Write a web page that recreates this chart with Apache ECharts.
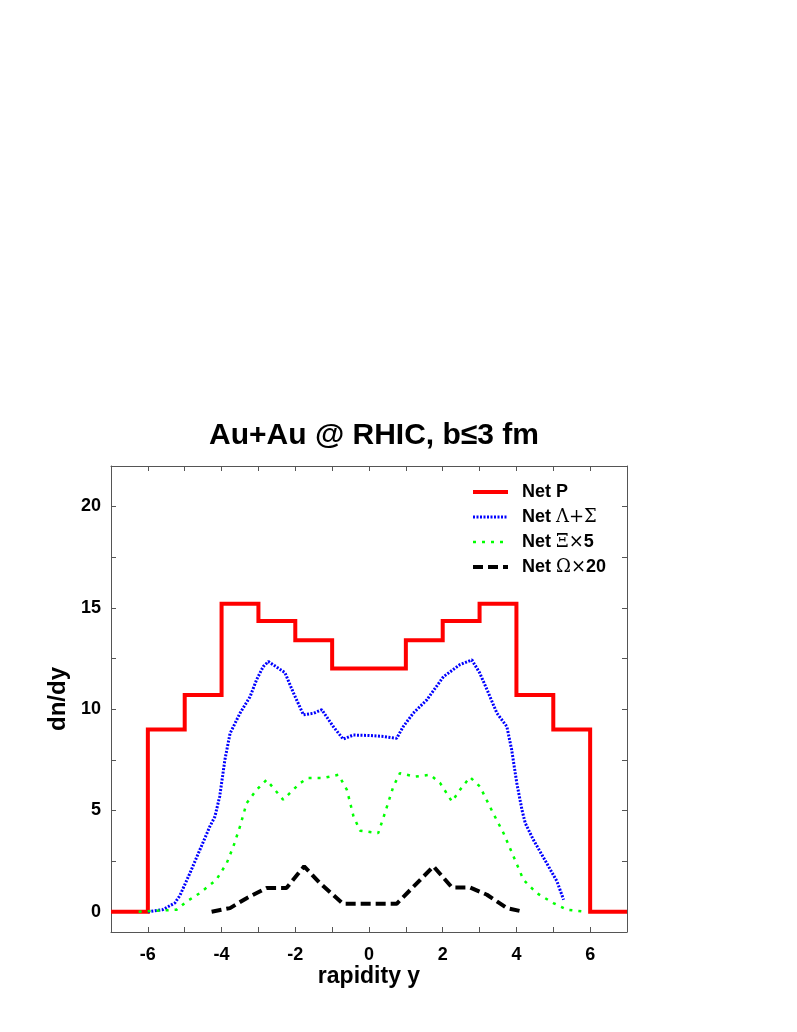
<!DOCTYPE html>
<html>
<head>
<meta charset="utf-8">
<script src="https://cdn.jsdelivr.net/npm/echarts@6/dist/echarts.min.js"></script>
<style>html,body{margin:0;padding:0;background:#fff;}#c{width:797px;height:1032px;}</style>
</head>
<body>
<div id="c"></div>
<script>
// Net P histogram: bin edges and bin values
const netPEdges = [-7,-6,-5,-4,-3,-2,-1,0,1,2,3,4,5,6,7];
const netPValues = [0,9.0,10.7,15.2,14.35,13.4,12.0,12.0,13.4,14.35,15.2,10.7,9.0,0];

const lambdaSigma = [[-6.0,0.0],[-5.6,0.1],[-5.27,0.43],[-5.13,0.8],[-4.86,1.9],[-4.59,3.05],[-4.32,4.2],[-4.18,4.7],[-4.05,5.7],[-3.91,7.5],[-3.77,8.8],[-3.5,9.8],[-3.23,10.6],[-3.05,11.45],[-2.87,12.1],[-2.73,12.35],[-2.28,11.8],[-2.05,10.8],[-1.78,9.72],[-1.5,9.8],[-1.28,9.97],[-0.97,9.14],[-0.7,8.52],[-0.43,8.72],[0.0,8.7],[0.4,8.65],[0.75,8.56],[0.93,9.14],[1.2,9.8],[1.57,10.46],[2.02,11.6],[2.47,12.2],[2.79,12.43],[3.0,11.8],[3.24,10.8],[3.47,9.8],[3.74,9.14],[3.87,8.0],[4.01,6.35],[4.15,5.03],[4.24,4.37],[4.46,3.55],[4.82,2.4],[5.1,1.5],[5.28,0.59]];

const xi5 = [[-6.25,0.0],[-5.22,0.1],[-4.95,0.5],[-4.59,0.92],[-4.14,1.58],[-3.86,2.4],[-3.68,3.22],[-3.5,4.21],[-3.32,5.36],[-3.05,6.02],[-2.78,6.51],[-2.33,5.53],[-1.87,6.35],[-1.65,6.6],[-1.24,6.6],[-0.83,6.76],[-0.6,6.02],[-0.42,4.7],[-0.24,4.0],[0.25,3.88],[0.43,4.86],[0.66,6.18],[0.84,6.84],[1.25,6.67],[1.66,6.76],[1.93,6.35],[2.25,5.44],[2.47,6.02],[2.74,6.64],[3.01,6.18],[3.37,4.86],[3.65,3.88],[3.92,2.73],[4.19,1.58],[4.55,0.92],[5.0,0.43],[5.37,0.1],[5.85,0.0]];

const omega20 = [[-4.27,0.0],[-3.77,0.18],[-3.32,0.67],[-2.78,1.17],[-2.24,1.17],[-1.76,2.24],[-1.33,1.41],[-0.7,0.39],[0.3,0.39],[0.75,0.39],[1.75,2.24],[2.25,1.2],[2.74,1.2],[3.2,0.84],[3.74,0.18],[4.19,0.0]];

const xTickValues = [-6,-5,-4,-3,-2,-1,0,1,2,3,4,5,6];
const xLabelValues = [-6,-4,-2,0,2,4,6];
const yTickValues = [0,2.5,5,7.5,10,12.5,15,17.5,20];
const yLabelValues = [0,5,10,15,20];

const seriesNames = ['Net P','Net \u039B+\u03A3','Net \u039E\u00D75','Net \u03A9\u00D720'];
// legend rich-text versions (Greek letters and operators in upright serif, like the math font)
const legendRich = {
  'Net P':'{b|Net P}',
  'Net \u039B+\u03A3':'{b|Net }{g|\u039B+\u03A3}',
  'Net \u039E\u00D75':'{b|Net }{g|\u039E\u00D7}{b|5}',
  'Net \u03A9\u00D720':'{b|Net }{g|\u03A9\u00D7}{b|20}'
};

const netPData = netPValues.map((v,i)=>[netPEdges[i],v]);
netPData.push([netPEdges[netPEdges.length-1], netPValues[netPValues.length-1]]);

const FONT = '"Liberation Sans", "DejaVu Sans", sans-serif';
const SERIF = '"DejaVu Serif", "Liberation Serif", serif';
const axisCol = '#555';

const styles = [
  {color:'#ff0000', width:4, type:'solid'},
  {color:'#0000ff', width:3, type:[2,1.5]},
  {color:'#00ff00', width:2.5, type:[3,6]},
  {color:'#000000', width:4, type:[10,5]}
];

function xAx(pos, showLabel){
  return {
    type:'value', position:pos, min:-7, max:7,
    axisLine:{show:true, onZero:false, lineStyle:{color:axisCol, width:1}},
    axisTick:{show:true, inside:true, length:5, customValues:xTickValues, lineStyle:{color:axisCol}},
    axisLabel:{show:showLabel, customValues:xLabelValues, margin:14, fontFamily:FONT, fontWeight:'bold', fontSize:18, color:'#000'},
    splitLine:{show:false},
    name: showLabel ? 'rapidity y' : '',
    nameLocation:'middle', nameGap:32,
    nameTextStyle:{fontFamily:FONT, fontWeight:'bold', fontSize:23, color:'#000'}
  };
}
function yAx(pos, showLabel){
  return {
    type:'value', position:pos, min:-1, max:22,
    axisLine:{show:true, onZero:false, lineStyle:{color:axisCol, width:1}},
    axisTick:{show:true, inside:true, length:5, customValues:yTickValues, lineStyle:{color:axisCol}},
    axisLabel:{show:showLabel, customValues:yLabelValues, margin:10, fontFamily:FONT, fontWeight:'bold', fontSize:18, color:'#000'},
    splitLine:{show:false},
    name: showLabel ? 'dn/dy' : '',
    nameLocation:'middle', nameGap:38, nameRotate:90,
    nameTextStyle:{fontFamily:FONT, fontWeight:'bold', fontSize:24, color:'#000'}
  };
}

const chart = echarts.init(document.getElementById('c'), null, {renderer:'canvas'});
chart.setOption({
  animation:false,
  backgroundColor:'#fff',
  title:{
    text:'Au+Au @ RHIC, b\u22643 fm', left:369, top:416, textAlign:'center',
    textStyle:{fontFamily:FONT, fontWeight:'bold', fontSize:30, color:'#000'}
  },
  grid:{left:111, right:170, top:466, bottom:100, containLabel:false},
  xAxis:[xAx('bottom', true), xAx('top', false)],
  yAxis:[yAx('left', true), yAx('right', false)],
  legend:{
    orient:'vertical', left:471, top:482, padding:0,
    itemWidth:35, itemHeight:14, itemGap:5,
    data:seriesNames.map((n,i)=>({name:n, lineStyle:{width:styles[i].width, type:styles[i].type, color:styles[i].color}})),
    itemStyle:{opacity:0},
    formatter:(n)=>legendRich[n] || n,
    textStyle:{fontFamily:FONT, fontWeight:'bold', fontSize:18, color:'#000', lineHeight:20, padding:[0,0,0,9],
      rich:{
        b:{fontFamily:FONT, fontWeight:'bold', fontSize:18, color:'#000', lineHeight:20},
        g:{fontFamily:SERIF, fontWeight:'normal', fontSize:18, color:'#000', lineHeight:20}
      }}
  },
  series:[
    {name:seriesNames[0], type:'line', step:'end', data:netPData, showSymbol:false, symbol:'none',
     lineStyle:Object.assign({join:'miter'}, styles[0]), itemStyle:{color:styles[0].color}, z:2},
    {name:seriesNames[1], type:'line', data:lambdaSigma, showSymbol:false, symbol:'none',
     lineStyle:styles[1], itemStyle:{color:styles[1].color}, z:3},
    {name:seriesNames[2], type:'line', data:xi5, showSymbol:false, symbol:'none',
     lineStyle:styles[2], itemStyle:{color:styles[2].color}, z:4},
    {name:seriesNames[3], type:'line', data:omega20, showSymbol:false, symbol:'none',
     lineStyle:styles[3], itemStyle:{color:styles[3].color}, z:5}
  ]
});
</script>
</body>
</html>
